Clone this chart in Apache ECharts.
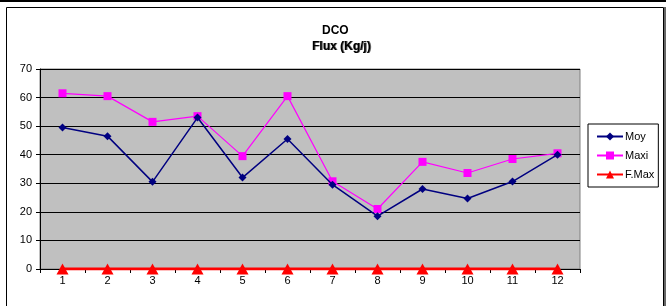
<!DOCTYPE html>
<html>
<head>
<meta charset="UTF-8">
<script src="https://cdn.jsdelivr.net/npm/echarts@6/dist/echarts.min.js"></script>
<style>
  html, body { margin: 0; padding: 0; background: #fff; }
  #chart { width: 666px; height: 306px; }
</style>
</head>
<body>
<div id="chart"></div>
<script>
// données
const months = ['1', '2', '3', '4', '5', '6', '7', '8', '9', '10', '11', '12'];
const moy = [49.5, 46.5, 30.5, 53, 32, 45.5, 29.5, 18.5, 28, 24.7, 30.6, 40];
const maxi = [61.5, 60.5, 51.5, 53.5, 39.5, 60.5, 30.7, 21, 37.5, 33.6, 38.5, 40.5];
const fMax = [0, 0, 0, 0, 0, 0, 0, 0, 0, 0, 0, 0];

const chart = echarts.init(document.getElementById('chart'));
const font = 'Arial, "Liberation Sans", sans-serif';

const option = {
  animation: false,
  textStyle: { fontFamily: font },
  graphic: [
    // cadre
    { type: 'rect', shape: { x: 0, y: 0, width: 666, height: 2 }, style: { fill: '#000' } },
    { type: 'rect', shape: { x: 6.5, y: 7.5, width: 657, height: 310 }, style: { fill: 'none', stroke: '#000', lineWidth: 1 } },
    { type: 'rect', shape: { x: 664, y: 7, width: 2, height: 310 }, style: { fill: '#666' } },
    // titre
    { type: 'text', left: 322, top: 25, style: { text: 'DCO', font: 'bold 12px ' + font, fill: '#000' } },
    { type: 'text', left: 312, top: 41, style: { text: 'Flux (Kg/j)', font: 'bold 12px ' + font, fill: '#000' } },
    { type: 'text', left: 313, top: 41, style: { text: 'Flux (Kg/j)', font: 'bold 12px ' + font, fill: '#000', opacity: 0.6 } }
  ],
  grid: {
    left: 40, right: 86, top: 69, bottom: 37,
    show: true, backgroundColor: '#C0C0C0', borderColor: '#808080', borderWidth: 1
  },
  legend: {
    orient: 'vertical',
    left: 588, top: 124,
    width: 74,
    padding: [7, 4, 7, 8],
    itemGap: 8,
    itemWidth: 26, itemHeight: 10,
    borderColor: '#000', borderWidth: 1,
    backgroundColor: '#fff',
    textStyle: { fontSize: 11, color: '#000', fontFamily: font, padding: [0, 0, 0, -3] },
    data: ['Moy', 'Maxi', 'F.Max']
  },
  xAxis: {
    type: 'category',
    data: months,
    boundaryGap: true,
    axisLine: { lineStyle: { color: '#000', width: 1 } },
    axisTick: { show: true, length: 4, interval: 0, lineStyle: { color: '#000' } },
    axisLabel: { fontSize: 11, color: '#000', margin: 6 },
    splitLine: { show: false }
  },
  yAxis: {
    type: 'value',
    min: 0, max: 70, interval: 10,
    axisLine: { show: true, lineStyle: { color: '#000', width: 1 } },
    axisTick: { show: true, length: 4, lineStyle: { color: '#000' } },
    axisLabel: { fontSize: 11, color: '#000', margin: 8 },
    splitLine: { show: true, lineStyle: { color: '#000', width: 1 } }
  },
  series: [
    {
      name: 'Moy', type: 'line', data: moy,
      symbol: 'diamond', symbolSize: 8,
      itemStyle: { color: '#000080' },
      lineStyle: { color: '#000080', width: 1.5 },
      z: 3
    },
    {
      name: 'Maxi', type: 'line', data: maxi,
      symbol: 'rect', symbolSize: 8,
      itemStyle: { color: '#FF00FF' },
      lineStyle: { color: '#FF00FF', width: 1.2 },
      z: 2
    },
    {
      name: 'F.Max', type: 'line', data: fMax,
      symbol: 'triangle', symbolSize: [12, 11],
      itemStyle: { color: '#FF0000' },
      lineStyle: { color: '#FF0000', width: 3 },
      z: 4
    }
  ]
};

chart.setOption(option);
</script>
</body>
</html>
